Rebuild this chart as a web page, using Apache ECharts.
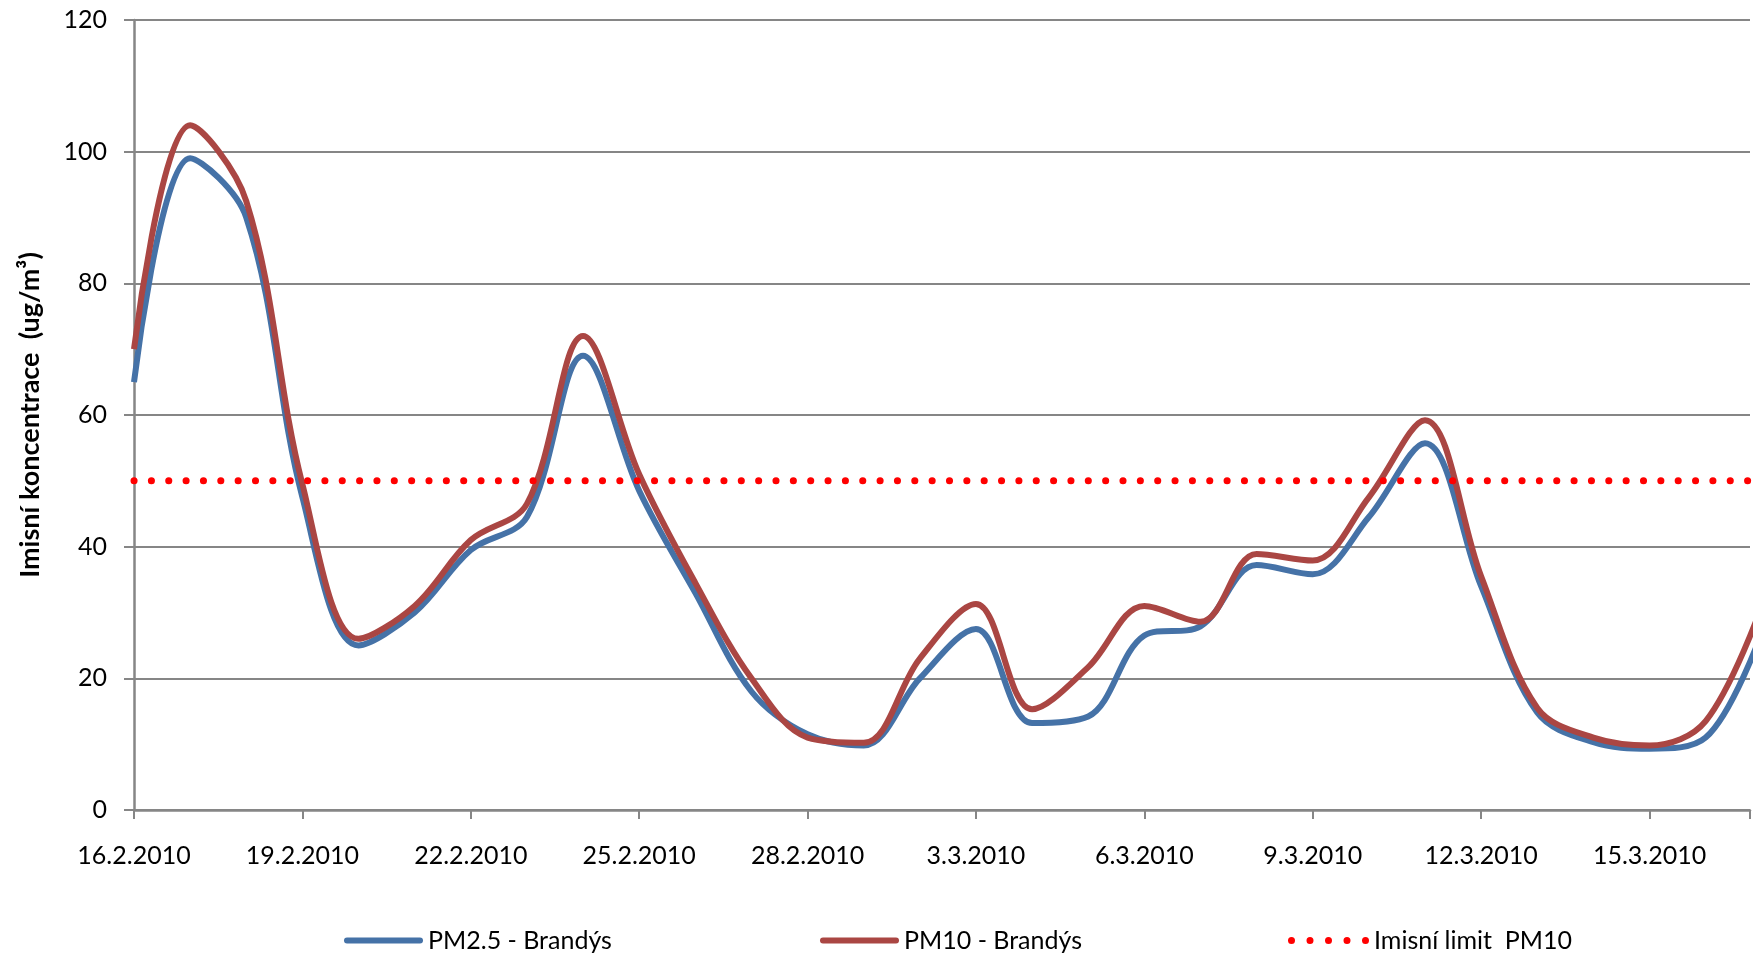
<!DOCTYPE html>
<html>
<head>
<meta charset="utf-8">
<script src="https://cdn.jsdelivr.net/npm/echarts@6/dist/echarts.min.js"></script>
<style>html,body{margin:0;padding:0;background:#fff}#c{width:1753px;height:955px}</style>
</head>
<body>
<div id="c"></div>
<script>
const dates = ['16.2.2010','17.2.2010','18.2.2010','19.2.2010','20.2.2010','21.2.2010','22.2.2010','23.2.2010','24.2.2010','25.2.2010','26.2.2010','27.2.2010','28.2.2010',
  '1.3.2010','2.3.2010','3.3.2010','4.3.2010','5.3.2010','6.3.2010','7.3.2010','8.3.2010','9.3.2010','10.3.2010','11.3.2010','12.3.2010','13.3.2010','14.3.2010','15.3.2010','16.3.2010','17.3.2010'];
const pm25 = [65, 99, 90, 47.5, 25, 30, 39.5, 44.5, 69, 48.5, 33, 18, 11.5, 9.8, 20, 27.5, 13.2, 14.2, 26.5, 27.9, 37.2, 35.8, 44.5, 55.7, 34, 14.8, 10.3, 9.3, 11, 27];
const pm10 = [70, 104, 92.5, 49.5, 26, 31, 41, 46.5, 72, 51, 34.5, 20, 11, 10.2, 23, 31.3, 15.3, 21.7, 31, 28.6, 38.9, 37.9, 47.5, 59.2, 35.5, 15.5, 11, 9.8, 13.5, 31];
const limitPM10 = [50,50,50,50,50,50,50,50,50,50,50,50,50,50,50,50,50,50,50,50,50,50,50,50,50,50,50,50,50,50];
const seriesNames = ['PM2.5 - Brandýs', 'PM10 - Brandýs', 'Imisní limit  PM10'];
const yTitle = 'Imisní koncentrace  (ug/m³)';

const FONT = 'Lato';
const gray = '#868686';
const chart = echarts.init(document.getElementById('c'), null, {renderer: 'canvas'});
const toXY = arr => arr.map((v, i) => [i, v]);
const dotsIcon = 'path://M0,3.5a3.5,3.5 0 1,0 7,0a3.5,3.5 0 1,0 -7,0Z M18.5,3.5a3.5,3.5 0 1,0 7,0a3.5,3.5 0 1,0 -7,0Z M37,3.5a3.5,3.5 0 1,0 7,0a3.5,3.5 0 1,0 -7,0Z M55.5,3.5a3.5,3.5 0 1,0 7,0a3.5,3.5 0 1,0 -7,0Z M74,3.5a3.5,3.5 0 1,0 7,0a3.5,3.5 0 1,0 -7,0Z';
const lineIcon = 'path://M3,0L76,0A3,3 0 0,1 76,6L3,6A3,3 0 0,1 3,0Z';
const legendText = {fontFamily: FONT, fontSize: 25, color: '#000'};
chart.setOption({
  animation: false,
  backgroundColor: '#fff',
  grid: {left: 134, right: 0, top: 20, bottom: 145, containLabel: false},
  legend: [
    {data: [{name: seriesNames[0], icon: lineIcon}], left: 344, top: 928, padding: 0, itemWidth: 79, itemHeight: 6, itemGap: 5, textStyle: legendText},
    {data: [{name: seriesNames[1], icon: lineIcon}], left: 820, top: 928, padding: 0, itemWidth: 79, itemHeight: 6, itemGap: 5, textStyle: legendText},
    {data: [{name: seriesNames[2], icon: dotsIcon}], left: 1288, top: 928, padding: 0, itemWidth: 81, itemHeight: 7, itemGap: 5, textStyle: legendText}
  ],
  xAxis: {
    type: 'value', min: 0, max: 28.79, interval: 3,
    axisLine: {show: true, onZero: false, lineStyle: {color: gray, width: 2.5}},
    axisTick: {show: true, length: 9, lineStyle: {color: gray, width: 2}},
    splitLine: {show: false},
    axisLabel: {
      margin: 33, fontFamily: FONT, fontSize: 25, color: '#000',
      formatter: v => (Number.isInteger(v) && dates[v] !== undefined) ? dates[v] : ''
    }
  },
  yAxis: {
    type: 'value', min: 0, max: 120, interval: 20,
    name: yTitle, nameLocation: 'middle', nameGap: 90,
    nameTextStyle: {fontFamily: FONT, fontSize: 27, fontWeight: 'bold', color: '#000'},
    axisLine: {show: true, lineStyle: {color: gray, width: 2.5}},
    axisTick: {show: true, length: 10, lineStyle: {color: gray, width: 2}},
    splitLine: {show: true, lineStyle: {color: gray, width: 2}},
    axisLabel: {margin: 27, fontFamily: FONT, fontSize: 25, color: '#000'}
  },
  series: [
    {name: seriesNames[0], type: 'line', data: toXY(pm25), smooth: 0.35, symbol: 'none', showSymbol: false,
     lineStyle: {color: '#4572A7', width: 6}, itemStyle: {color: '#4572A7'}, z: 3},
    {name: seriesNames[1], type: 'line', data: toXY(pm10), smooth: 0.35, symbol: 'none', showSymbol: false,
     lineStyle: {color: '#AA4643', width: 6}, itemStyle: {color: '#AA4643'}, z: 4},
    {name: seriesNames[2], type: 'line', data: toXY(limitPM10), symbol: 'none', showSymbol: false,
     lineStyle: {color: '#FF0000', width: 7, type: [0.1, 17.25], cap: 'round'}, itemStyle: {color: '#FF0000'}, z: 5}
  ]
});
</script>
</body>
</html>
